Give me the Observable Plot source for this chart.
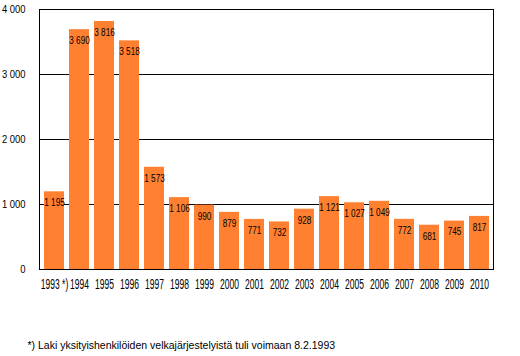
<!DOCTYPE html>
<html>
<head>
<meta charset="utf-8">
<script src="https://cdn.jsdelivr.net/npm/d3@7"></script>
<script src="https://cdn.jsdelivr.net/npm/@observablehq/plot@0.6"></script>
<style>
  html, body { margin: 0; padding: 0; background: #fff; }
  #chart svg { display: block; }
</style>
</head>
<body>
<div id="chart"></div>
<script>
const years = ["1993","1994","1995","1996","1997","1998","1999","2000","2001","2002","2003","2004","2005","2006","2007","2008","2009","2010"];
const values = [1195,3690,3816,3518,1573,1106,990,879,771,732,928,1121,1027,1049,772,681,745,817];
const xLabels = ["1993 *)","1994","1995","1996","1997","1998","1999","2000","2001","2002","2003","2004","2005","2006","2007","2008","2009","2010"];
const yTicks = [0,1000,2000,3000,4000];
const footnote = "*) Laki yksityishenkilöiden velkajärjestelyistä tuli voimaan 8.2.1993";

const data = years.map((y, i) => ({year: y, value: values[i]}));
const fmt = d => d3.format(",")(d).replace(/,/g, " ");
const labelOf = Object.fromEntries(years.map((y, i) => [y, xLabels[i]]));

const chart = Plot.plot({
  width: 520,
  height: 356,
  marginLeft: 39,
  marginRight: 27,
  marginTop: 9,
  marginBottom: 87,
  style: {fontFamily: "'Liberation Sans', Arial, sans-serif", background: "#fff", color: "#000"},
  x: {domain: years, paddingInner: 0.21, paddingOuter: 0.08, label: null, tickSize: 0, tickPadding: 10, tickFormat: d => labelOf[d]},
  y: {domain: [0, 4000], ticks: yTicks, label: null, tickSize: 0, tickPadding: 14, tickFormat: fmt},
  marks: [
    Plot.gridY(yTicks, {stroke: "#000", strokeOpacity: 1, strokeWidth: 1}),
    Plot.barY(data, {x: "year", y: "value", fill: "#ff8030"}),
    Plot.frame({stroke: "#000", strokeWidth: 1}),
    Plot.text(data, {x: "year", y: "value", text: d => fmt(d.value), dy: 11, lineAnchor: "middle", fontSize: 10.5, fill: "#000", className: "vlabel"}),
    Plot.text([footnote], {frameAnchor: "bottom-left", dx: -12, dy: 76, textAnchor: "start", lineAnchor: "middle", fontSize: 10.5, fill: "#000"})
  ]
});

function condense(sel, s) {
  sel.each(function() {
    const t = d3.select(this);
    const tr = t.attr("transform");
    if (tr) {
      t.attr("transform", tr + ` scale(${s},1)`);
    } else {
      const x = +(t.attr("x") || 0);
      t.attr("x", x / s).attr("transform", `scale(${s},1)`);
    }
  });
}

const svg = d3.select(chart);
const xt = svg.selectAll("[aria-label='x-axis tick label'] text").style("font-size", "14px");
condense(xt, 0.61);
const yt = svg.selectAll("[aria-label='y-axis tick label'] text").style("font-size", "10.5px");
condense(yt, 0.9);
condense(svg.selectAll(".vlabel text"), 0.78);
document.getElementById("chart").appendChild(chart);
</script>
</body>
</html>
